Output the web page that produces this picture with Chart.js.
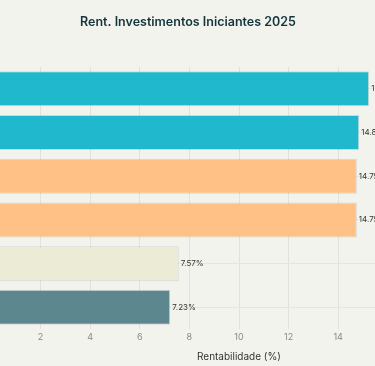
<!DOCTYPE html>
<html>
<head>
<meta charset="utf-8">
<script src="https://cdn.jsdelivr.net/npm/chart.js"></script>
<style>
  html, body { margin: 0; padding: 0; background: #f3f3ee; overflow: hidden; width: 375px; height: 366px; }
  #wrap { position: absolute; left: -111px; top: 0; width: 598px; height: 366px; }
</style>
</head>
<body>
<div id="wrap"><canvas id="chart"></canvas></div>
<script>
// investimentos (de cima para baixo)
const categories = ['Tesouro Selic', 'CDB 100% CDI', 'LCI', 'LCA', 'Tesouro IPCA+', 'Poupança'];
const rentabilidade = [15.25, 14.85, 14.75, 14.75, 7.57, 7.23];
const barColors = ['#1FB8CD', '#1FB8CD', '#FFC185', '#FFC185', '#ECEBD5', '#5D878F'];
const xTicks = [0, 2, 4, 6, 8, 10, 12, 14];

// rótulos de valor ao lado das barras
const valueLabels = {
  id: 'valueLabels',
  afterDatasetsDraw(chart) {
    const ctx = chart.ctx;
    const meta = chart.getDatasetMeta(0);
    ctx.save();
    ctx.font = '8px Inter, "DejaVu Sans", sans-serif';
    ctx.fillStyle = '#333';
    ctx.textBaseline = 'middle';
    meta.data.forEach((bar, i) => {
      ctx.fillText(rentabilidade[i].toFixed(2) + '%', bar.x + 2, bar.y);
    });
    ctx.restore();
  }
};

new Chart(document.getElementById('chart'), {
  type: 'bar',
  data: {
    labels: categories,
    datasets: [{
      data: rentabilidade,
      backgroundColor: barColors,
      borderColor: 'rgba(0,0,0,0.12)',
      borderWidth: 1,
      barPercentage: 0.8,
      categoryPercentage: 1
    }]
  },
  options: {
    indexAxis: 'y',
    responsive: true,
    maintainAspectRatio: false,
    animation: false,
    layout: { autoPadding: false, padding: { top: 15, bottom: 3, left: 0, right: 0 } },
    plugins: {
      legend: { display: false },
      tooltip: { enabled: false },
      title: {
        display: true,
        text: 'Rent. Investimentos Iniciantes 2025',
        color: '#13343B',
        font: { family: 'Inter, "DejaVu Sans", sans-serif', size: 12.5, weight: '600' },
        padding: { top: 0, bottom: 37 }
      }
    },
    scales: {
      x: {
        min: 0,
        max: 20,
        afterBuildTicks: (scale) => { scale.ticks = xTicks.map(v => ({ value: v })); },
        grid: { color: '#e2e2da', drawTicks: false },
        border: { display: false },
        ticks: {
          padding: 3,
          color: '#888',
          font: { family: 'Inter, "DejaVu Sans", sans-serif', size: 9 },
          callback: (v) => v === 0 ? '' : v
        },
        title: {
          display: true,
          text: 'Rentabilidade (%)',
          color: '#333',
          font: { family: 'Inter, "DejaVu Sans", sans-serif', size: 10 },
          padding: { top: 5, bottom: 0 }
        }
      },
      y: {
        afterFit: (scale) => { scale.width = 102; },
        grid: { color: '#e6e6de', offset: false, drawTicks: false },
        border: { display: false },
        ticks: {
          color: '#333',
          font: { family: 'Inter, "DejaVu Sans", sans-serif', size: 11 }
        }
      }
    }
  },
  plugins: [valueLabels]
});
</script>
</body>
</html>
